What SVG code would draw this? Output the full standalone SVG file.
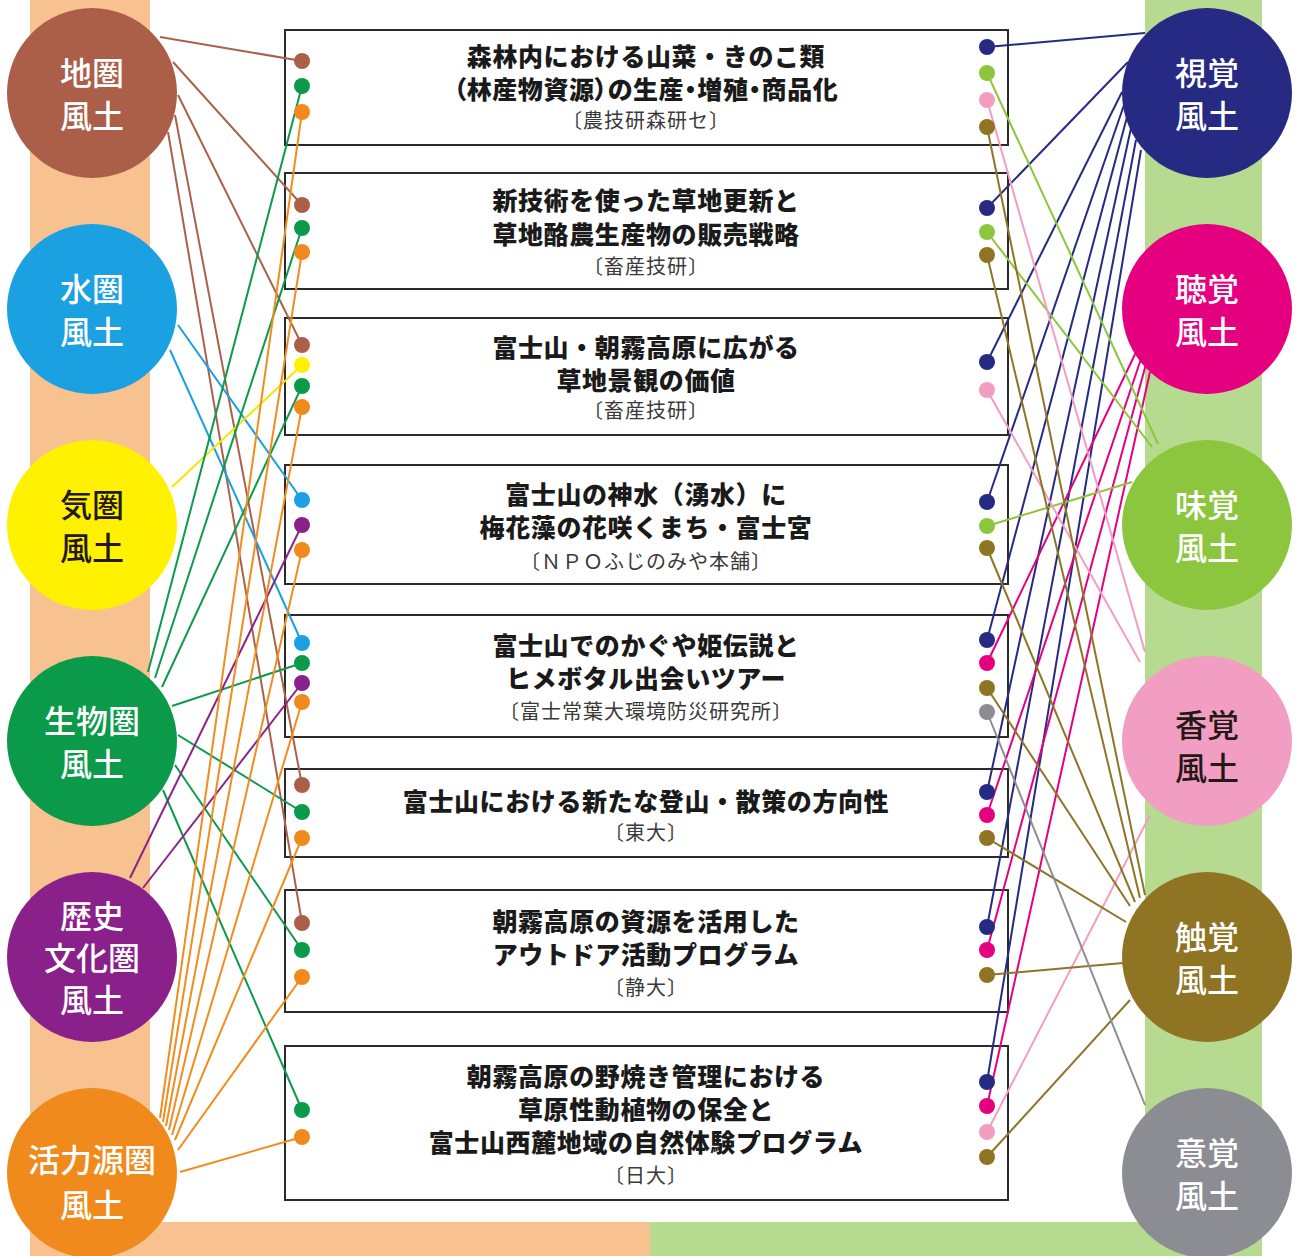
<svg xmlns="http://www.w3.org/2000/svg" width="1298" height="1256" viewBox="0 0 1298 1256">
<style>
.bg{fill:#ffffff}
.bandL{fill:#f8c190}
.bandR{fill:#b6da90}
.box{fill:#ffffff;stroke:#2b2b2b;stroke-width:2}
.ttl{font-family:"Noto Sans CJK JP","Noto Sans",sans-serif;font-weight:900;font-size:25px;letter-spacing:0.6px;fill:#1a1a1a;text-anchor:middle}
.palt{font-feature-settings:"palt"}
.sub{font-family:"Noto Sans CJK JP","Noto Sans",sans-serif;font-weight:400;font-size:20px;letter-spacing:1px;fill:#3a3a3a;text-anchor:middle}
.ct{font-family:"Noto Sans CJK JP","Noto Sans",sans-serif;font-weight:500;font-size:32px;fill:#ffffff;text-anchor:middle}
.dk{fill:#231815}
.cn line{stroke-width:2;fill:none}
.s-chi{stroke:#a9614b}.f-chi{fill:#ab5f48}
.s-sui{stroke:#1aa0e0}.f-sui{fill:#1ba1e2}
.s-ki{stroke:#f3e600}.f-ki{fill:#fff100}
.s-sei{stroke:#0c9a4c}.f-sei{fill:#0a9a4a}
.s-reki{stroke:#8b2488}.f-reki{fill:#8a208a}
.s-kat{stroke:#f18c1e}.f-kat{fill:#f08a1c}
.s-shi{stroke:#262a82}.f-shi{fill:#262a82}
.s-cho{stroke:#e4007f}.f-cho{fill:#e5007f}
.s-mi{stroke:#8cc63e}.f-mi{fill:#8cc63f}
.s-ko{stroke:#f29ec4}.f-ko{fill:#f19ec2}
.s-sho{stroke:#8e7426}.f-sho{fill:#8f7424}
.s-i{stroke:#8d8d93}.f-i{fill:#8c8c93}
</style>
<rect class="bg" x="0" y="0" width="1298" height="1256"/>
<rect class="bandL" x="30" y="0" width="120" height="1256"/>
<rect class="bandR" x="1145" y="0" width="117" height="1256"/>
<rect class="bandL" x="30" y="1222" width="620" height="34"/>
<rect class="bandR" x="650" y="1222" width="612" height="34"/>

<g id="box1"><rect class="box" x="285" y="30" width="723" height="115"/>
<text class="ttl" x="646" y="66">森林内における山菜・きのこ類</text>
<text class="ttl palt" x="646" y="99">（林産物資源）の生産・増殖・商品化</text>
<text class="sub" x="646" y="128">〔農技研森研セ〕</text></g>
<g id="box2"><rect class="box" x="285" y="173" width="723" height="116"/>
<text class="ttl" x="646" y="210">新技術を使った草地更新と</text>
<text class="ttl" x="646" y="244">草地酪農生産物の販売戦略</text>
<text class="sub" x="646" y="274">〔畜産技研〕</text></g>
<g id="box3"><rect class="box" x="285" y="318" width="723" height="117"/>
<text class="ttl" x="646" y="357">富士山・朝霧高原に広がる</text>
<text class="ttl" x="646" y="390">草地景観の価値</text>
<text class="sub" x="646" y="418">〔畜産技研〕</text></g>
<g id="box4"><rect class="box" x="285" y="465" width="723" height="119"/>
<text class="ttl" x="646" y="504">富士山の神水（湧水）に</text>
<text class="ttl" x="646" y="537">梅花藻の花咲くまち・富士宮</text>
<text class="sub" x="646" y="569">〔ＮＰＯふじのみや本舗〕</text></g>
<g id="box5"><rect class="box" x="285" y="615" width="723" height="122"/>
<text class="ttl" x="646" y="655">富士山でのかぐや姫伝説と</text>
<text class="ttl" x="646" y="688">ヒメボタル出会いツアー</text>
<text class="sub" x="646" y="719">〔富士常葉大環境防災研究所〕</text></g>
<g id="box6"><rect class="box" x="285" y="769" width="723" height="88"/>
<text class="ttl" x="646" y="811">富士山における新たな登山・散策の方向性</text>
<text class="sub" x="646" y="840">〔東大〕</text></g>
<g id="box7"><rect class="box" x="285" y="890" width="723" height="122"/>
<text class="ttl" x="646" y="931">朝霧高原の資源を活用した</text>
<text class="ttl" x="646" y="964">アウトドア活動プログラム</text>
<text class="sub" x="646" y="995">〔静大〕</text></g>
<g id="box8"><rect class="box" x="285" y="1046" width="723" height="154"/>
<text class="ttl" x="646" y="1086">朝霧高原の野焼き管理における</text>
<text class="ttl" x="646" y="1119">草原性動植物の保全と</text>
<text class="ttl" x="646" y="1152">富士山西麓地域の自然体験プログラム</text>
<text class="sub" x="646" y="1183">〔日大〕</text></g>

<g id="connectors" class="cn">
<line class="s-chi" x1="160" y1="37" x2="302" y2="61"/>
<line class="s-chi" x1="173" y1="62" x2="302" y2="205"/>
<line class="s-chi" x1="178" y1="95" x2="302" y2="345"/>
<line class="s-chi" x1="175" y1="115" x2="302" y2="785"/>
<line class="s-chi" x1="168" y1="132" x2="302" y2="923"/>
<line class="s-sui" x1="178" y1="325" x2="302" y2="500"/>
<line class="s-sui" x1="170" y1="350" x2="302" y2="643"/>
<line class="s-ki" x1="172" y1="487" x2="302" y2="365"/>
<line class="s-sei" x1="148" y1="672" x2="302" y2="86"/>
<line class="s-sei" x1="155" y1="678" x2="302" y2="228"/>
<line class="s-sei" x1="162" y1="687" x2="302" y2="386"/>
<line class="s-sei" x1="172" y1="706" x2="302" y2="663"/>
<line class="s-sei" x1="178" y1="735" x2="302" y2="812"/>
<line class="s-sei" x1="175" y1="765" x2="302" y2="950"/>
<line class="s-sei" x1="163" y1="790" x2="302" y2="1110"/>
<line class="s-reki" x1="130" y1="878" x2="302" y2="525"/>
<line class="s-reki" x1="143" y1="888" x2="302" y2="683"/>
<line class="s-kat" x1="160" y1="1118" x2="302" y2="112"/>
<line class="s-kat" x1="163" y1="1122" x2="302" y2="252"/>
<line class="s-kat" x1="166" y1="1126" x2="302" y2="407"/>
<line class="s-kat" x1="169" y1="1130" x2="302" y2="550"/>
<line class="s-kat" x1="172" y1="1135" x2="302" y2="702"/>
<line class="s-kat" x1="175" y1="1140" x2="302" y2="838"/>
<line class="s-kat" x1="178" y1="1150" x2="302" y2="977"/>
<line class="s-kat" x1="180" y1="1172" x2="302" y2="1137"/>
<line class="s-shi" x1="1145" y1="33" x2="987" y2="47"/>
<line class="s-shi" x1="1128" y1="62" x2="987" y2="208"/>
<line class="s-shi" x1="1122" y1="92" x2="987" y2="362"/>
<line class="s-shi" x1="1124" y1="105" x2="987" y2="502"/>
<line class="s-shi" x1="1127" y1="117" x2="987" y2="640"/>
<line class="s-shi" x1="1131" y1="128" x2="987" y2="792"/>
<line class="s-shi" x1="1136" y1="140" x2="987" y2="927"/>
<line class="s-shi" x1="1141" y1="150" x2="987" y2="1082"/>
<line class="s-cho" x1="1138" y1="348" x2="987" y2="663"/>
<line class="s-cho" x1="1142" y1="356" x2="987" y2="815"/>
<line class="s-cho" x1="1146" y1="364" x2="987" y2="950"/>
<line class="s-cho" x1="1150" y1="372" x2="987" y2="1106"/>
<line class="s-mi" x1="1158" y1="444" x2="987" y2="73"/>
<line class="s-mi" x1="1152" y1="447" x2="987" y2="232"/>
<line class="s-mi" x1="1132" y1="482" x2="987" y2="526"/>
<line class="s-ko" x1="1145" y1="652" x2="987" y2="100"/>
<line class="s-ko" x1="1140" y1="662" x2="987" y2="390"/>
<line class="s-ko" x1="1150" y1="815" x2="987" y2="1132"/>
<line class="s-sho" x1="1145" y1="895" x2="987" y2="127"/>
<line class="s-sho" x1="1140" y1="898" x2="987" y2="255"/>
<line class="s-sho" x1="1135" y1="902" x2="987" y2="548"/>
<line class="s-sho" x1="1130" y1="906" x2="987" y2="688"/>
<line class="s-sho" x1="1126" y1="922" x2="987" y2="838"/>
<line class="s-sho" x1="1123" y1="963" x2="987" y2="975"/>
<line class="s-sho" x1="1130" y1="1000" x2="987" y2="1157"/>
<line class="s-i" x1="1145" y1="1105" x2="987" y2="712"/>
</g>

<g id="ports">
<circle class="f-chi" cx="302" cy="61" r="8"/><circle class="f-sei" cx="302" cy="86" r="8"/><circle class="f-kat" cx="302" cy="112" r="8"/>
<circle class="f-chi" cx="302" cy="205" r="8"/><circle class="f-sei" cx="302" cy="228" r="8"/><circle class="f-kat" cx="302" cy="252" r="8"/>
<circle class="f-chi" cx="302" cy="345" r="8"/><circle class="f-ki" cx="302" cy="365" r="8"/><circle class="f-sei" cx="302" cy="386" r="8"/><circle class="f-kat" cx="302" cy="407" r="8"/>
<circle class="f-sui" cx="302" cy="500" r="8"/><circle class="f-reki" cx="302" cy="525" r="8"/><circle class="f-kat" cx="302" cy="550" r="8"/>
<circle class="f-sui" cx="302" cy="643" r="8"/><circle class="f-sei" cx="302" cy="663" r="8"/><circle class="f-reki" cx="302" cy="683" r="8"/><circle class="f-kat" cx="302" cy="702" r="8"/>
<circle class="f-chi" cx="302" cy="785" r="8"/><circle class="f-sei" cx="302" cy="812" r="8"/><circle class="f-kat" cx="302" cy="838" r="8"/>
<circle class="f-chi" cx="302" cy="923" r="8"/><circle class="f-sei" cx="302" cy="950" r="8"/><circle class="f-kat" cx="302" cy="977" r="8"/>
<circle class="f-sei" cx="302" cy="1110" r="8"/><circle class="f-kat" cx="302" cy="1137" r="8"/>
<circle class="f-shi" cx="987" cy="47" r="8"/><circle class="f-mi" cx="987" cy="73" r="8"/><circle class="f-ko" cx="987" cy="100" r="8"/><circle class="f-sho" cx="987" cy="127" r="8"/>
<circle class="f-shi" cx="987" cy="208" r="8"/><circle class="f-mi" cx="987" cy="232" r="8"/><circle class="f-sho" cx="987" cy="255" r="8"/>
<circle class="f-shi" cx="987" cy="362" r="8"/><circle class="f-ko" cx="987" cy="390" r="8"/>
<circle class="f-shi" cx="987" cy="502" r="8"/><circle class="f-mi" cx="987" cy="526" r="8"/><circle class="f-sho" cx="987" cy="548" r="8"/>
<circle class="f-shi" cx="987" cy="640" r="8"/><circle class="f-cho" cx="987" cy="663" r="8"/><circle class="f-sho" cx="987" cy="688" r="8"/><circle class="f-i" cx="987" cy="712" r="8"/>
<circle class="f-shi" cx="987" cy="792" r="8"/><circle class="f-cho" cx="987" cy="815" r="8"/><circle class="f-sho" cx="987" cy="838" r="8"/>
<circle class="f-shi" cx="987" cy="927" r="8"/><circle class="f-cho" cx="987" cy="950" r="8"/><circle class="f-sho" cx="987" cy="975" r="8"/>
<circle class="f-shi" cx="987" cy="1082" r="8"/><circle class="f-cho" cx="987" cy="1106" r="8"/><circle class="f-ko" cx="987" cy="1132" r="8"/><circle class="f-sho" cx="987" cy="1157" r="8"/>
</g>

<g id="chiken"><circle class="f-chi" cx="92" cy="93" r="85"/><text class="ct" x="92" y="85">地圏</text><text class="ct" x="92" y="128">風土</text></g>
<g id="suiken"><circle class="f-sui" cx="92" cy="309" r="85"/><text class="ct" x="92" y="301">水圏</text><text class="ct" x="92" y="344">風土</text></g>
<g id="kiken"><circle class="f-ki" cx="92" cy="525" r="85"/><text class="ct dk" x="92" y="517">気圏</text><text class="ct dk" x="92" y="560">風土</text></g>
<g id="seibutsuken"><circle class="f-sei" cx="92" cy="741" r="85"/><text class="ct" x="92" y="733">生物圏</text><text class="ct" x="92" y="776">風土</text></g>
<g id="rekishi"><circle class="f-reki" cx="92" cy="957" r="85"/><text class="ct" x="92" y="928">歴史</text><text class="ct" x="92" y="970">文化圏</text><text class="ct" x="92" y="1012">風土</text></g>
<g id="katsuryoku"><circle class="f-kat" cx="92" cy="1173" r="85"/><text class="ct" x="92" y="1172">活力源圏</text><text class="ct" x="92" y="1217">風土</text></g>

<g id="shikaku"><circle class="f-shi" cx="1207" cy="93" r="85"/><text class="ct" x="1207" y="85">視覚</text><text class="ct" x="1207" y="128">風土</text></g>
<g id="choukaku"><circle class="f-cho" cx="1207" cy="309" r="85"/><text class="ct" x="1207" y="301">聴覚</text><text class="ct" x="1207" y="344">風土</text></g>
<g id="mikaku"><circle class="f-mi" cx="1207" cy="525" r="85"/><text class="ct" x="1207" y="517">味覚</text><text class="ct" x="1207" y="560">風土</text></g>
<g id="koukaku"><circle class="f-ko" cx="1207" cy="741" r="85"/><text class="ct dk" x="1207" y="737">香覚</text><text class="ct dk" x="1207" y="780">風土</text></g>
<g id="shokkaku"><circle class="f-sho" cx="1207" cy="957" r="85"/><text class="ct" x="1207" y="949">触覚</text><text class="ct" x="1207" y="992">風土</text></g>
<g id="ikaku"><circle class="f-i" cx="1207" cy="1173" r="85"/><text class="ct" x="1207" y="1165">意覚</text><text class="ct" x="1207" y="1208">風土</text></g>
</svg>
